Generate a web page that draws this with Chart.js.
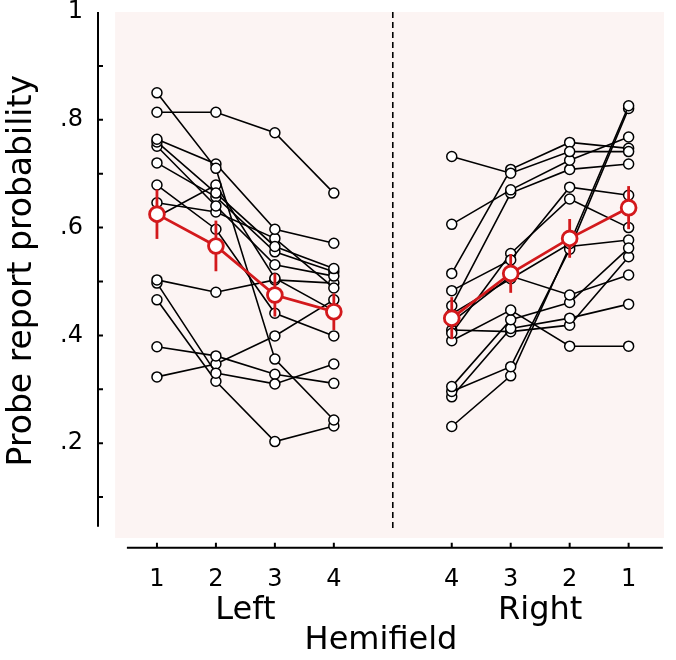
<!DOCTYPE html>
<html>
<head>
<meta charset="utf-8">
<script src="https://cdn.jsdelivr.net/npm/chart.js@4/dist/chart.umd.min.js"></script>
<style>
  html, body { margin: 0; padding: 0; background: #fff; }
  canvas { display: block; }
</style>
</head>
<body>
<canvas id="chart" width="676" height="660"></canvas>
<script>
// probe positions on the hemifield axis (5 = vertical meridian)
const xPos = [1, 2, 3, 4, 6, 7, 8, 9];
const xLabels = ['1', '2', '3', '4', '4', '3', '2', '1'];
const groupPos = [2.5, 7.5];
const groupLabels = ['Left', 'Right'];
const yTicks = [0.2, 0.4, 0.6, 0.8, 1];
const yLabels = ['.2', '.4', '.6', '.8', '1'];
const yTickMarks = [0.1, 0.2, 0.3, 0.4, 0.5, 0.6, 0.7, 0.8, 0.9];
const yTitle = 'Probe report probability';

// one row per subject, positions 1..4 in the left hemifield
const leftSubjects = [
  [0.850, 0.710, 0.356, 0.243],
  [0.814, 0.814, 0.776, 0.664],
  [0.764, 0.718, 0.597, 0.571],
  [0.759, 0.664, 0.565, 0.524],
  [0.751, 0.640, 0.531, 0.510],
  [0.720, 0.657, 0.555, 0.518],
  [0.679, 0.597, 0.441, 0.399],
  [0.646, 0.629, 0.580, 0.488],
  [0.620, 0.679, 0.506, 0.446],
  [0.503, 0.480, 0.503, 0.497],
  [0.497, 0.330, 0.310, 0.347],
  [0.466, 0.315, 0.203, 0.232],
  [0.379, 0.362, 0.328, 0.311],
  [0.323, 0.347, 0.399, 0.466]
];

// one row per subject, positions 4..1 in the right hemifield
const rightSubjects = [
  [0.732, 0.701, 0.741, 0.741],
  [0.606, 0.670, 0.725, 0.768],
  [0.515, 0.708, 0.758, 0.747],
  [0.455, 0.664, 0.708, 0.718],
  [0.483, 0.540, 0.675, 0.660],
  [0.404, 0.552, 0.653, 0.600],
  [0.440, 0.505, 0.570, 0.826],
  [0.425, 0.510, 0.475, 0.512],
  [0.390, 0.447, 0.380, 0.380],
  [0.305, 0.429, 0.461, 0.562],
  [0.296, 0.342, 0.560, 0.821],
  [0.286, 0.413, 0.432, 0.458],
  [0.231, 0.325, 0.565, 0.577],
  [0.410, 0.407, 0.419, 0.546]
];

// group means and standard errors
const meanLeft = [0.625, 0.566, 0.475, 0.444];
const semLeft = [0.046, 0.047, 0.040, 0.034];
const meanRight = [0.432, 0.515, 0.580, 0.637];
const semRight = [0.039, 0.036, 0.036, 0.040];

const RED = '#d3191c';
const FONT = 'DejaVu Sans';

function toPoints(values, xs) {
  return values.map((v, i) => ({ x: xs[i], y: v }));
}

const leftX = xPos.slice(0, 4);
const rightX = xPos.slice(4);

const datasets = [];
leftSubjects.concat(rightSubjects).forEach((row, i) => {
  datasets.push({
    data: toPoints(row, i < leftSubjects.length ? leftX : rightX),
    borderColor: '#000',
    borderWidth: 1.6,
    pointRadius: 5,
    pointBorderWidth: 1.5,
    pointBackgroundColor: '#fff',
    pointBorderColor: '#000',
    order: 1
  });
});
[[meanLeft, semLeft, leftX], [meanRight, semRight, rightX]].forEach(([m, s, xs]) => {
  datasets.push({
    data: toPoints(m, xs),
    sem: s,
    borderColor: RED,
    borderWidth: 2.8,
    pointRadius: 7.4,
    pointBorderWidth: 2.8,
    pointBackgroundColor: '#fff',
    pointBorderColor: RED,
    order: 0
  });
});

// pink panel, meridian, detached axes and the y title
const frame = {
  id: 'frame',
  beforeDatasetsDraw(chart) {
    const { ctx, scales: { x, y } } = chart;
    ctx.save();
    ctx.fillStyle = '#fcf4f3';
    const l = x.getPixelForValue(0.29), r = x.getPixelForValue(9.6);
    const t = y.getPixelForValue(1), b = y.getPixelForValue(0.024);
    ctx.fillRect(l, t, r - l, b - t);

    ctx.strokeStyle = '#000';
    ctx.lineWidth = 1.6;
    ctx.setLineDash([6, 4]);
    const mx = x.getPixelForValue(5);
    ctx.beginPath();
    ctx.moveTo(mx, t);
    ctx.lineTo(mx, y.getPixelForValue(0.04));
    ctx.stroke();
    ctx.setLineDash([]);

    // y axis
    ctx.lineWidth = 2;
    const ax = x.getPixelForValue(0);
    ctx.beginPath();
    ctx.moveTo(ax, y.getPixelForValue(1));
    ctx.lineTo(ax, y.getPixelForValue(0.045));
    yTickMarks.forEach(v => {
      const py = y.getPixelForValue(v);
      ctx.moveTo(ax, py);
      ctx.lineTo(ax + 5, py);
    });
    ctx.stroke();

    // x axis
    const ay = y.getPixelForValue(0.006);
    ctx.beginPath();
    ctx.moveTo(x.getPixelForValue(0.49), ay);
    ctx.lineTo(x.getPixelForValue(9.58), ay);
    xPos.forEach(v => {
      const px = x.getPixelForValue(v);
      ctx.moveTo(px, ay);
      ctx.lineTo(px, ay - 5);
    });
    ctx.stroke();

    // y title
    ctx.translate(22, y.getPixelForValue(0.52));
    ctx.rotate(-Math.PI / 2);
    ctx.fillStyle = '#000';
    ctx.font = '33px "' + FONT + '"';
    ctx.textAlign = 'center';
    ctx.textBaseline = 'middle';
    ctx.fillText(yTitle, 0, 0);
    ctx.restore();
  },
  beforeDatasetDraw(chart, args) {
    const ds = chart.data.datasets[args.index];
    if (!ds.sem) return;
    const { ctx, scales: { x, y } } = chart;
    ctx.save();
    ctx.strokeStyle = RED;
    ctx.lineWidth = 2.8;
    ds.data.forEach((p, i) => {
      const px = x.getPixelForValue(p.x);
      ctx.beginPath();
      ctx.moveTo(px, y.getPixelForValue(p.y + ds.sem[i]));
      ctx.lineTo(px, y.getPixelForValue(p.y - ds.sem[i]));
      ctx.stroke();
    });
    ctx.restore();
  }
};

new Chart(document.getElementById('chart'), {
  type: 'line',
  data: { datasets },
  plugins: [frame],
  options: {
    responsive: false,
    animation: false,
    layout: { padding: { top: 12, right: 12, left: 0, bottom: 0 } },
    plugins: { legend: { display: false }, tooltip: { enabled: false } },
    scales: {
      x: {
        type: 'linear',
        min: 0,
        max: 9.6,
        weight: 0,
        grid: { display: false, drawTicks: false },
        border: { display: false },
        afterBuildTicks: axis => { axis.ticks = xPos.map(v => ({ value: v })); },
        ticks: {
          autoSkip: false,
          maxRotation: 0,
          padding: 14,
          color: '#000',
          font: { family: FONT, size: 24 },
          callback: v => xLabels[xPos.indexOf(v)]
        },
        afterFit: axis => { axis.height = 38; axis.paddingLeft = 0; axis.paddingRight = 0; }
      },
      x2: {
        type: 'linear',
        position: 'bottom',
        min: 0,
        max: 9.6,
        weight: 1,
        grid: { display: false, drawTicks: false },
        border: { display: false },
        afterBuildTicks: axis => { axis.ticks = groupPos.map(v => ({ value: v })); },
        ticks: {
          autoSkip: false,
          maxRotation: 0,
          padding: 2,
          color: '#000',
          font: { family: FONT, size: 32 },
          callback: v => groupLabels[groupPos.indexOf(v)]
        },
        title: {
          display: true,
          text: 'Hemifield',
          color: '#000',
          font: { family: FONT, size: 32 },
          padding: { top: 0, bottom: 0 }
        },
        afterFit: axis => { axis.height = 71; axis.paddingLeft = 0; axis.paddingRight = 0; }
      },
      y: {
        min: 0,
        max: 1,
        grid: { display: false, drawTicks: false },
        border: { display: false },
        afterBuildTicks: axis => { axis.ticks = yTicks.map(v => ({ value: v })); },
        ticks: {
          autoSkip: false,
          padding: 15,
          color: '#000',
          font: { family: FONT, size: 24 },
          callback: v => yLabels[yTicks.indexOf(v)]
        },
        afterFit: axis => { axis.width = 98; axis.paddingTop = 0; axis.paddingBottom = 0; }
      }
    }
  }
});
</script>
</body>
</html>
